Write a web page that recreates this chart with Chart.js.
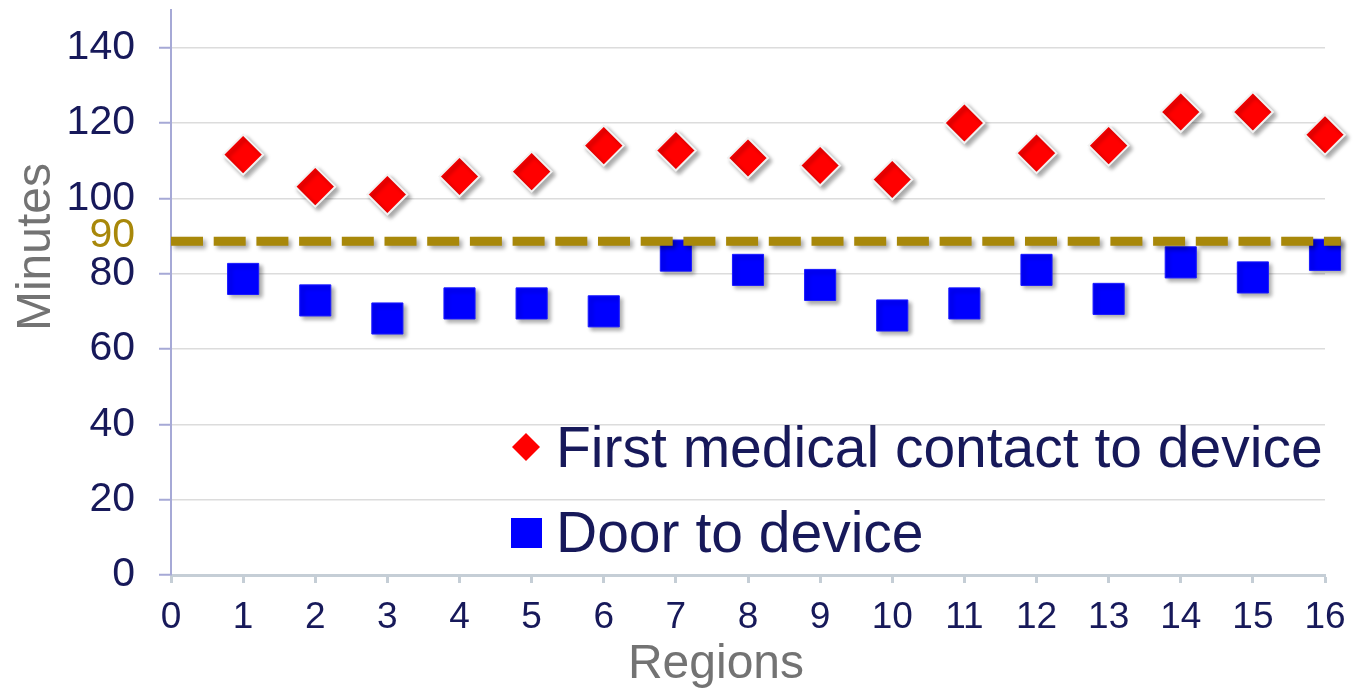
<!DOCTYPE html>
<html><head><meta charset="utf-8">
<script src="https://cdn.jsdelivr.net/npm/chart.js@4.4.0/dist/chart.umd.min.js"></script>
<style>html,body{margin:0;padding:0;background:#fff;}canvas{display:block;}</style>
</head><body>
<canvas id="c" width="1361" height="692"></canvas>
<script>
// ---- data ----
const regions = [1,2,3,4,5,6,7,8,9,10,11,12,13,14,15,16];
const fmcToDevice = [111.6,103.1,101,105.8,107.1,114,112.7,110.7,108.7,105,120,112,114,122.9,122.9,116.9];
const doorToDevice = [78.6,72.9,68.1,72.1,72.1,70,84.8,81,77,68.9,72.1,81,73.3,83,79,85];
const seriesLabels = ['First medical contact to device','Door to device'];
const targetValue = 88.6;          // dashed reference line as drawn
const targetTickLabel = 90;        // its label on the y axis
const targetXRange = [0, 16.22];
const yTicks = [0,20,40,60,80,100,120,140];
const xTicks = [0,1,2,3,4,5,6,7,8,9,10,11,12,13,14,15,16];
const axisTitles = {x:'Regions', y:'Minutes'};

// ---- styles ----
const NAVY = '#17195a';
const GOLD = '#a8880a';
const FONT = "'Liberation Sans', Arial, sans-serif";
const ZERO_PAD = () => ({left:0, top:0, right:0, bottom:0});

const shadowPlugin = {
  id:'shadow',
  beforeDatasetDraw(chart){
    const ctx = chart.ctx; ctx.save();
    ctx.shadowColor='rgba(0,0,0,0.33)'; ctx.shadowBlur=4; ctx.shadowOffsetX=3; ctx.shadowOffsetY=3;
  },
  afterDatasetDraw(chart){ chart.ctx.restore(); }
};

const textPlugin = {
  id:'texts',
  afterDraw(chart){
    const ctx = chart.ctx;
    ctx.save();
    ctx.fillStyle = '#737373';
    ctx.font = '48px ' + FONT;
    ctx.textAlign = 'center'; ctx.textBaseline = 'alphabetic';
    ctx.fillText(axisTitles.x, 716, 678);
    ctx.save();
    ctx.translate(50, 247); ctx.rotate(-Math.PI/2);
    ctx.fillText(axisTitles.y, 0, 0);
    ctx.restore();
    const ds = chart.data.datasets;
    ctx.textAlign = 'left'; ctx.textBaseline = 'alphabetic';
    ctx.font = '57px ' + FONT;
    ctx.fillStyle = NAVY;
    ctx.fillText(ds[1].label, 556, 467);
    ctx.fillText(ds[2].label, 556, 552);
    ctx.fillStyle = ds[1].backgroundColor;
    ctx.beginPath();
    ctx.moveTo(526, 433); ctx.lineTo(540, 447); ctx.lineTo(526, 461); ctx.lineTo(512, 447); ctx.closePath();
    ctx.fill();
    ctx.fillStyle = ds[2].backgroundColor;
    ctx.fillRect(511, 518, 31, 30);
    ctx.restore();
  }
};

new Chart(document.getElementById('c'), {
  type:'scatter',
  data:{
    datasets:[
      {
        label:'target', showLine:true, pointRadius:0, borderColor:GOLD, borderWidth:9,
        borderDash:[32,10.7], borderCapStyle:'butt', clip:false, order:0,
        data: targetXRange.map(x=>({x, y:targetValue}))
      },
      {
        label:seriesLabels[0], pointStyle:'rectRot', pointRadius:20, backgroundColor:'#ff0000',
        borderColor:'#f2f2f2', borderWidth:2, order:2, clip:false,
        data: regions.map((r,i)=>({x:r, y:fmcToDevice[i]}))
      },
      {
        label:seriesLabels[1], pointStyle:'rect', pointRadius:22, backgroundColor:'#0000ff',
        borderColor:'#1a1aff', borderWidth:1, order:1, clip:false,
        data: regions.map((r,i)=>({x:r, y:doorToDevice[i]}))
      }
    ]
  },
  options:{
    responsive:false, animation:false, events:[],
    layout:{autoPadding:false, padding:{top:10,right:36,left:0,bottom:0}},
    plugins:{legend:{display:false}, tooltip:{enabled:false}},
    scales:{
      x:{
        type:'linear', min:0, max:16,
        afterBuildTicks(s){ s.ticks = xTicks.map(v=>({value:v})); },
        afterFit(s){ s.height = 117; s.paddingLeft=0; s.paddingRight=0; s.getPadding = ZERO_PAD; },
        ticks:{font:{size:37, family:FONT}, color:NAVY, padding:13, autoSkip:false, maxRotation:0},
        grid:{drawOnChartArea:false, drawTicks:true, tickLength:8, tickColor:'#c5ced6', tickWidth:3},
        border:{color:'#c5ced6', width:3}
      },
      y:{
        type:'linear', min:0, max:150,
        afterBuildTicks(s){ s.ticks = [...yTicks, targetTickLabel].sort((a,b)=>a-b).map(v=>({value:v})); },
        afterFit(s){ s.width = 171; s.paddingTop=0; s.paddingBottom=0; s.getPadding = ZERO_PAD; },
        ticks:{font:{size:41, family:FONT}, padding:24,
          color:c=> c.tick && c.tick.value===targetTickLabel ? GOLD : NAVY},
        grid:{
          color:c=> (c.tick && (c.tick.value===0 || c.tick.value===targetTickLabel)) ? 'rgba(0,0,0,0)' : '#dcdcdc',
          borderDash:[6,5], lineWidth:1.5,
          tickColor:c=> (c.tick && c.tick.value===targetTickLabel) ? 'rgba(0,0,0,0)' : '#a6a9d6',
          tickBorderDash:[], tickLength:12, tickWidth:2
        },
        border:{color:'#a6a9d6', width:2}
      }
    }
  },
  plugins:[shadowPlugin, textPlugin]
});
</script>
</body></html>
